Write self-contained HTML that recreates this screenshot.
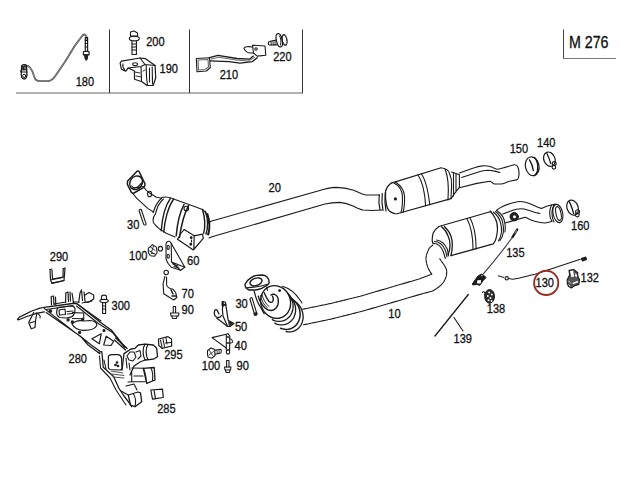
<!DOCTYPE html>
<html><head><meta charset="utf-8">
<style>
html,body{margin:0;padding:0;background:#fff;width:640px;height:480px;overflow:hidden}
svg{display:block}
text{font-family:"Liberation Sans",sans-serif;font-size:12px;fill:#111;stroke:#111;stroke-width:0.3}
.l{fill:none;stroke:#1a1a1a;stroke-width:1.1;stroke-linejoin:round;stroke-linecap:round}
</style></head><body>
<svg width="640" height="480" viewBox="0 0 640 480">
<rect width="640" height="480" fill="#fff"/>
<!-- 180 sensor -->
<g class="l">
<path d="M25,65.5 C29,65 32,69 34,76 C35,80 37,81.2 40,81.2 L48.7,81.2 C52,80.5 54,78 56,75 L65,61.7 L75,45.5 L82.5,35.5 C84,34 86,34 86.5,37 L86.5,40" stroke-width="1.8" stroke="#444"/>
<path d="M25,65.5 C29,65 32,69 34,76 C35,80 37,81.2 40,81.2 L48.7,81.2 C52,80.5 54,78 56,75 L65,61.7 L75,45.5 L82.5,35.5 C84,34 86,34 86.5,37 L86.5,40" stroke-width="0.6" stroke="#bbb"/>
<path d="M85.3,37.5 L87.6,37.5 L87.6,51.3 L85.3,51.3 Z" stroke-width="1.2"/>
<path d="M85.3,40.5 L87.6,40.5 M85.3,43.5 L87.6,43.5 M85.3,47 L87.6,47" stroke-width="1"/>
<path d="M83.5,51.5 L89,51.5 L89.1,54.8 L83.4,54.8 Z" stroke-width="1.2"/>
<path d="M84.9,54.8 L87.7,54.8 L87.5,58.5 L86.3,60.5 L85.1,58.5 Z" fill="#222" stroke-width="1"/>

<path d="M21.6,66.5 C21.6,64 26.4,64 26.6,66.5 L26.8,73 C27.2,75 27,78.5 24.2,79 C21.5,79 21,76 21.3,73 Z" stroke-width="1.3"/>
<path d="M22.5,66 L26,66.5 L25.5,70 L22.5,70 Z" fill="#222" stroke-width="0.8"/>
<path d="M21,72 L27,72 M20.5,71 L21.5,71.5" stroke-width="1.1"/>
<circle cx="24.2" cy="75.8" r="1.6" stroke-width="1"/>
<circle cx="25" cy="68" r="0.7" fill="#fff" stroke="none"/>

<!-- 200 bolt -->
<path d="M130.5,32 L134,31 L137.5,33 L137.5,36 L130.5,36 Z"/>
<ellipse cx="134.3" cy="38.6" rx="5" ry="2.3"/>
<path d="M132,41 L132,54.5 L136.4,54.5 L136.4,41"/>
<path d="M132,44 L136.4,44 M132,47 L136.4,47 M132,50 L136.4,50"/>
<!-- 190 bracket -->
<path d="M121.4,61.2 L140.1,58 L145.2,58.6 L155.1,65.5 L155.7,78 L153.2,85.5 L147,85.5 L142,81.7 L134.5,79.2 L134.5,71 L128.2,68 L125.7,71.1 L121.4,69.2 L120.1,63 Z" stroke-width="1.2"/>
<path d="M128.2,68 L141,66.5 L145,64.5 L155.1,65.5 M140.1,58 L145,64.5 M141,66.5 L141.5,80.5"/>
<ellipse cx="135.1" cy="64.2" rx="2.4" ry="1.4"/>
<path d="M146.2,65 L146.5,77 L147.5,85.5 M149.5,68 L149.5,82 M152.2,67 L152.5,84" stroke-width="1.1"/>
<path d="M135,72 L140,73 M136,76 L141,77 M143,71 L145,70" stroke-width="0.9"/>
<path d="M123,64 C122.5,66 123,68 124.5,69.5"/>
<!-- 210 bracket -->
<path d="M196.3,58.5 L209.5,57.7 L210.3,67.8 L206.4,71 L197,71.7 Z"/>
<path d="M198,60 L208,59.5 L208.5,67 L205,69.5 L198.5,70 Z" stroke="#666"/>
<path d="M209.5,57.7 L218,55.3 L236.9,58.5 L249.4,59.2 L253.3,56.1 M210.3,60.8 L229,61.6 L240,63.2 L252.5,61.6 L257.2,57.7" stroke-width="1.3"/>
<path d="M211,59 L219,57.3 L236,60 L248,61 L254.5,57.5" stroke-width="0.9" stroke="#555"/>
<path d="M252.5,45.2 L265,46 L265.8,55.3 L257.2,56.1 L253.5,53 Z"/>
<path d="M252.5,47 C248,46 244,47 243.9,48.5 C245,51 248,53 250.2,53 L253.5,53"/>
<circle cx="256" cy="49" r="1.2"/>
<!-- 220 bolt -->
<path d="M276.4,40 L269.5,41.5 C268,42 267.9,44.5 269.3,45 L276.6,44.8" stroke-width="1.2"/>
<path d="M271,41.2 L271.3,45 M273,40.8 L273.3,44.9 M275,40.4 L275.2,44.8" stroke-width="0.9"/>
<ellipse cx="279.3" cy="40.3" rx="2.9" ry="6.8" transform="rotate(-12 279.3 40.3)" stroke-width="1.2"/>
<path d="M279.5,36 C281,38 281.3,42 280.5,45" stroke-width="1"/>
<ellipse cx="284.6" cy="40" rx="2.3" ry="5.3" transform="rotate(-10 284.6 40)" stroke-width="1.3" stroke-dasharray="1.3 1"/>
</g>
<!-- Converter 1 (pipe 20 left) -->
<g class="l">
<!-- flange -->
<path d="M127.6,181 C127.3,182.5 127.3,184.5 127.9,185.5 L131.3,192.2 C131.8,193.2 133,193.4 134,193 L143.8,187.3 C144.8,186.5 145.2,185 144.9,183.6 L139.3,172 C138.8,171 137.6,170.8 136.8,171.4 Z" stroke-width="1.5"/>
<ellipse cx="136.1" cy="182.8" rx="6" ry="7.2" transform="rotate(35 136.1 182.8)" stroke-width="1.4"/>
<path d="M131.6,186 C133.5,188.8 137,189 141.6,182.8" stroke-width="1.2"/>
<path d="M131,188.5 L143.5,186.5" stroke-width="1"/>
<!-- neck -->
<path d="M132.4,193 L136.6,198.2 L148,208.6 L153.2,211.7"/>
<path d="M144.2,187.8 L148,192 L156.4,197.2 L161.6,198.2"/>
<path d="M161.6,198.2 C158,201 155,206 153.2,212.8 M163.5,199 C160,202 157,207 155.5,213.8"/>
<ellipse cx="149.6" cy="194" rx="2" ry="2.8"/>
<!-- body -->
<path d="M161.9,197.6 C165,196.5 170,197 175,199.5 L187.5,203.9 L202.5,209.5 C205,211 207,214 208.7,220.7 C209.8,226 209.5,231 207.5,234.5 M155.5,213.8 C152,218 152.5,223 155,224.5 C157,228 160,229.5 166.2,233.2 L175,237"/>
<path d="M170.6,198.2 C165,206 162,220 161.2,230.7 M173.7,199 C168,207 164.5,221 163.8,232" stroke-width="1.4"/>
<path d="M184,204.5 C179.5,213 177,226 176.2,235.7 M188.5,205.7 C184,214 181,227 179.5,237.5" stroke-width="1.5"/>
<path d="M202.5,209.5 C205,218 205.5,226 203.7,233.2 M205.5,211.5 C208,219 208,228 206,234" stroke-width="1.4"/>
<path d="M207.5,214 C209.5,220 210,228 208.5,234.5" stroke-width="1.8"/>
<circle cx="186.3" cy="208.6" r="2.3"/>
<!-- bracket box -->
<path d="M177.5,239.2 L193.3,250 L203.3,238.3 L202.5,234.2 L194.2,235.8 L184.2,229.6 M194.2,235.8 L193.8,249.5" stroke-width="1.2"/>
<path d="M177.5,239.2 C179,236 181.5,232 184.2,229.6"/>
<circle cx="191.2" cy="237.6" r="0.9" fill="#111"/>
<circle cx="190.8" cy="244.2" r="0.9" fill="#111"/>
<path d="M191.5,240 L191.5,242" stroke-width="1"/>
<!-- pipe 20 -->
<path d="M208.5,223 L211,221.2 L318,191 C325,188.8 330,187.6 336,187.4 C342,187.5 348,188.5 353.7,190.3 C358,192 361,194.3 365.9,195 L379,195"/>
<path d="M209,238 L212,236.8 L325,204 C331,202.6 336,202.4 340,202.4 C346,202.8 350,204.5 353.7,206.2 C357,208 360,209.5 363.1,210 L372.5,210.5 L381.9,210"/>
<!-- converter 2 -->
<path d="M379.3,194.5 C378.6,199 378.8,205 380,210 M382.3,193.5 C381.6,199 381.8,205 383,210.5 M385.2,192.5 C384.6,199 384.8,205 386,211" stroke-width="1.2"/>
<path d="M391.2,183.1 C388.5,185 386.5,188 385.6,191 C385.2,196 385.6,201 386.5,205 C387.2,208 388.2,210 389.4,211 C391,212.5 393,213.3 395,213.7" stroke-width="1.2"/>
<path d="M393.3,182.4 C398,185 402,190 402.4,195.8 C402.7,203 402,209 401,212.7 M395.5,182 C400,185 404,190 404.5,196 C404.8,203 404,209 403,212.5"/>
<path d="M391.2,183.1 L441.1,167.7 C446,168.5 449,170 449.5,173.3 C451.5,178 451.8,183 451.6,186 L451,198.6 L396.1,214"/>
<path d="M417.9,174.7 C423,182 425,195 425.6,205.6 M421.4,174 C426.5,181 428.5,194 429.8,204.6"/>
<path d="M445,169 C448,176 449,186 448,200"/>
<circle cx="395.4" cy="198.9" r="1" fill="#222"/>
<path d="M451.6,171.9 L459.4,174.7 L459.4,187.3 L455.9,191.6 L451,198.6 M453.5,172.5 L453.5,196 M456,173.5 L456,192"/>
<!-- tail pipe 20 -->
<path d="M459.4,173 L471.4,168.7 C476,167.2 480,166 482.4,165.9 C485,165.7 488,166 490,166.5 C493,167.3 495.5,169 497.7,169.2 C500,169 502,168.3 504.2,167.6 L514.1,164.8 C516,164.6 517.3,165.5 517.9,167 C518.8,169.5 519.2,172 519,174.7 C518.8,177 518.3,178.7 517.4,179.6 L509.7,181.3 C506,182.3 503.5,184 501,184 L494.4,184 C492.5,183.5 491.5,181.5 490,181.3 L476.9,183.4 L459.4,187.8"/>
<path d="M461.6,177.4 L476.9,172.5 C481,171.3 485,170.4 487.8,170.3 C490,170.3 491.8,170.5 493.3,170.9 C496,171.5 498,172 499.9,172.5"/>
<!-- 150 ring -->
<ellipse cx="532.2" cy="166.3" rx="6.8" ry="9.5" transform="rotate(-12 532.2 166.3)" stroke-width="1.2"/>
<path d="M529.5,159.9 C531.5,163 532.7,166.5 533.3,170.5" stroke-width="1.4"/>
<path d="M534.5,157.5 C537.5,160 538.5,166 537.5,171 C537,173 536,174.5 534.5,175.5" stroke-width="1.5"/>
<!-- 140 clamp -->
<ellipse cx="549.4" cy="159.2" rx="5.6" ry="7.4" transform="rotate(-22 549.4 159.2)" stroke-width="1.2"/>
<path d="M547,153.6 C548.5,156.5 549.8,160 550.7,163.6" stroke-width="1.2"/>
<circle cx="554.2" cy="163.6" r="2" stroke-width="1.1"/>
<circle cx="553.9" cy="167.3" r="1.8" stroke-width="1.1"/>
</g>
<g class="l">
</g>
<g class="l">
<!-- converter 3 -->
<path d="M285.1,291.1 L286.4,292.1 L287.6,293.1 L288.8,294.4 L289.8,295.7 L290.7,297.1 L291.5,298.6 L292.1,300.2 L292.6,301.8 L292.9,303.4 L293.1,305.1 L293.1,306.8 L293.0,308.4 L292.7,310.0 L292.3,311.6 L291.7,313.1 L291.0,314.5 L290.1,315.8 L289.1,317.0 L288.0,318.1 L286.8,319.0 L285.5,319.8 L284.2,320.4 L282.8,320.9 L281.3,321.2 L279.8,321.4 L278.2,321.4 L276.7,321.2 L275.2,320.8 L273.7,320.3 L272.3,319.6" stroke-width="1.3"/>
<path d="M287.6,294.6 L288.9,295.6 L290.1,296.6 L291.3,297.9 L292.3,299.2 L293.2,300.6 L294.0,302.1 L294.6,303.7 L295.1,305.3 L295.4,306.9 L295.6,308.6 L295.6,310.3 L295.5,311.9 L295.2,313.5 L294.8,315.1 L294.2,316.6 L293.5,318.0 L292.6,319.3 L291.6,320.5 L290.5,321.6 L289.3,322.5 L288.0,323.3 L286.7,323.9 L285.3,324.4 L283.8,324.7 L282.3,324.9 L280.7,324.9 L279.2,324.7 L277.7,324.3 L276.2,323.8 L274.8,323.1" stroke-width="1.3"/>
<path d="M290.9,298.4 L292.3,299.2 L293.6,300.2 L294.8,301.3 L295.9,302.5 L296.9,303.9 L297.8,305.3 L298.6,306.8 L299.2,308.4 L299.6,310.0 L299.9,311.7 L300.1,313.3 L300.1,315.0 L300.0,316.6 L299.6,318.3 L299.2,319.8 L298.6,321.3 L297.8,322.7 L297.0,324.0 L296.0,325.2 L294.9,326.2 L293.7,327.1 L292.4,327.9 L291.0,328.5 L289.5,329.0 L288.1,329.3 L286.6,329.4 L285.0,329.3 L283.5,329.1 L282.0,328.7 L280.5,328.2" stroke-width="1.5"/>
<path d="M291.4,299.8 L292.9,300.4 L294.3,301.1 L295.7,302.0 L297.0,303.0 L298.1,304.1 L299.2,305.4 L300.2,306.8 L301.0,308.2 L301.7,309.8 L302.3,311.4 L302.7,313.0 L303.0,314.6 L303.1,316.3 L303.1,318.0 L302.9,319.6 L302.5,321.2 L302.0,322.7 L301.4,324.2 L300.6,325.6 L299.7,326.8 L298.7,328.0 L297.5,329.0 L296.3,329.9 L295.0,330.6 L293.6,331.2 L292.1,331.6 L290.6,331.8 L289.1,331.9 L287.6,331.8 L286.1,331.5" stroke-width="1.3"/>
<path d="M282.5,286.3 C290,288.5 296,294 300,300 L302,303"/>
<ellipse cx="275.6" cy="302" rx="14.8" ry="16.6" transform="rotate(-20 275.6 302)" stroke-width="1.3" fill="#fff"/>
<circle cx="279.6" cy="290.6" r="0.9" fill="#222"/>
<path d="M254.2,291.2 C255.5,297 257.5,303 260.8,307.5 C262,310 263,312 264.2,313.7" fill="none" stroke-width="1.2"/>
<path d="M266.7,287 L267.5,290.3"/>
<path d="M258.3,296.2 C259.5,301 262,305 265,308 C268,310.5 272,310.8 274.5,309.3 C277.5,307.5 278.6,304 278.3,300 C278,297 276.5,295 274.5,294.3 C273,294 271.8,294.3 271,295" stroke-width="1.4"/>
<path d="M264.2,292.8 C265.5,296 267,299 269,301.5 C270.5,303 272.5,302.5 273.2,300.5 C273.5,298.5 273,297 272.5,296.2" stroke-width="1.4"/>
<path d="M262,294.5 C263,299 265.5,304 269,306.5 M260.5,295.5 C261.5,300.5 264,305.5 267.5,308" stroke-width="0.9"/>
<path d="M245,284.2 C246.5,281 248.5,279.3 250.8,277.9 C253,276.5 255,275.6 256.7,275.4 L262.5,275 C264.5,275.3 265.8,275.8 266.7,276.7 C268,278 268.6,279 268.75,280 L269.2,282.5 C268.7,283.8 268.2,284.5 267.5,285 L261.7,288.3 C259,289.3 257,289.8 255,290 L249.2,290 C247.5,289.5 246.5,288.7 245.8,287.5 C245.2,286.5 245,285.5 245,284.2 Z" stroke-width="1.4" fill="#fff"/>
<ellipse cx="256" cy="281.9" rx="6.2" ry="3.7" transform="rotate(-18 256 281.9)" stroke-width="1.4"/>
<path d="M246.3,287.9 C253,287.5 261,286.5 267.5,284.2" />
</g>

<g class="l">
<!-- bolt 30 lower -->
<path d="M249.9,299 L254.6,314.5 M252.2,298.3 L256.9,313.8 M249.9,299 C250,297.6 252,297.2 252.2,298.3" stroke-width="1.1"/>
<path d="M254.2,313.2 L256.8,312.6 L257,315 L255,315.5 Z" fill="#222" stroke-width="1"/>
<!-- pipe 10 -->
<path d="M302.5,309.3 L331,303.4 L360,296.3 L420,278.7 L431.8,274.2 C430,272 428,268 427.2,265.6 C426.2,262 425.8,259 426,257.6 C426.3,255.5 426.6,254 427.2,253 C428,250.5 429,248.5 430,247.3 L433,245" stroke-dasharray="3.5 0.8"/>
<path d="M303.5,324.8 L331,319.1 L360,311.8 L368.3,309.5 L420,294.4 L433,290.9 C436,289 439,287 441,285.1 C443,283 444.5,281 445.5,278.3 C446.5,276 446.9,273.5 446.7,271.4 C446.5,269 445.6,267 444.4,265.6 C443.5,264 442.8,263 442.1,262.2 L439.8,258.8" stroke-dasharray="3.5 0.8"/>
<!-- converter 4 -->
<path d="M433.1,243.5 C437,243 441,246 443.4,252 L445.3,258.5 M434.5,241.5 C439,241.5 443,245 445.5,250.5 L447,257 M436.5,240 C441,240.5 445,244 447.5,249.5 L448.5,256" stroke-width="1.1"/>
<path d="M438.7,226.7 C436,228.5 434,230.5 433.1,233.2 C432.4,236 432.1,238.5 432.2,240.7 L433.1,243.5" stroke-width="1.2"/>
<path d="M441.6,226.7 C445,229.5 447,232.5 448.1,236 C449.5,239 450,242 450,245.4 C450,249 449.2,252 448.1,254.8 M444.4,226.5 C447.5,229.5 449.8,232.5 450.9,236 C452,239 452.4,242 452.3,245.4 C452.2,249 451.8,252.5 450.9,255.7" stroke-width="1.3"/>
<path d="M438.7,226.5 L491.1,211.5 M450.9,255.7 L493.3,243.8 C496,241 497,236 497.5,229.2 C497.5,224 496.6,221 495.4,218.8 C493.8,215.5 492.2,213 490.2,211" stroke-width="1.2"/>
<path d="M466.9,218.4 C471,226 473,238 473.1,249.7 M469.9,217.8 C474,225 476,237 476.2,249"/>
<path d="M493.3,212 C497,215 499.5,218.5 500.5,222.5 C501.5,226 501.7,229 501.5,232 C501,236 500,238.5 498.5,241 M495.5,211.5 C499.5,214.5 501.8,218 502.7,222.5 C503.5,226 503.7,229 503.3,232.5 C502.8,236 501.5,238.5 500,240.5 M497.5,211 C501.5,214 504,217.5 504.8,222.5 C505.5,226 505.5,229 505,232" stroke-width="1.1"/>
<path d="M496.5,210.5 C498,209 499,208 500.6,207.4 C505,205.5 510,203.5 514,202.5 C517,201.7 519.5,201.4 521,201.5 C524,201.8 527,202.5 529.5,203.5 C534,205.5 538,207.5 541.5,208.4 C544,207.5 546,206.5 548.4,205.8 L555.3,204.1"/>
<path d="M502.7,214.1 L512.1,210.5 C516,209 520,208.5 524,209 C530,210.5 535,213 540,213.5"/>
<path d="M504.8,223 L514.2,220.4 L525,217.3 L526.5,217.7 C528.5,218.8 531,220 534.7,221.2 C538,222.2 541,223 545,223 C548,222.5 550,222 551.9,221.2"/>
<circle cx="514.2" cy="216.7" r="4.2" fill="#222" stroke-width="1"/>
<circle cx="514.5" cy="216.8" r="1.5" fill="#fff" stroke="none"/>
<ellipse cx="557.9" cy="213.5" rx="4.8" ry="9.3" transform="rotate(-12 557.9 213.5)"/>
<path d="M551.5,205 C549,210 549,217 551.9,221.2 M554,204.5 C551.5,210 551.5,217 554,222"/>
<ellipse cx="558.5" cy="213.5" rx="2.5" ry="7" transform="rotate(-12 558.5 213.5)"/>
<!-- 160 clamp -->
<ellipse cx="572.6" cy="207.6" rx="5.5" ry="7.8" transform="rotate(-22 572.6 207.6)" stroke-width="1.2"/>
<path d="M569.4,201.9 C571,205 572.5,209.5 573.7,213.7" stroke-width="1.3"/>
<circle cx="577.6" cy="211.8" r="2" stroke-width="1.1"/>
<circle cx="577.3" cy="215" r="1.9" stroke-width="1.1"/>
<!-- sensor 135 -->
<path d="M517.3,229.4 L512.5,237.2" stroke-width="2.2"/>
<path d="M516.5,230.5 L515,233" stroke="#fff" stroke-width="0.6"/>
<path d="M512.5,237.2 C503,250 492,264 483.3,273.8" stroke-width="1.05" stroke="#333"/>
<path d="M472.5,283.7 L477.7,276.2 L481.5,274 L484.1,275.5 L486,277.7 L483,280.7 L480,285.2 L476.2,284.5 L473.2,284.9 Z" fill="#1a1a1a" stroke-width="1"/>
<path d="M477.3,280.3 L481,280 L480.8,283.5 L477,283.6 Z" fill="#fff" stroke="none"/>
<circle cx="481.9" cy="275.6" r="0.7" fill="#fff" stroke="none"/>
<!-- 138 -->
<ellipse cx="489.6" cy="296.4" rx="4.9" ry="6.9" fill="#2a2a2a" stroke-width="1"/>
<circle cx="489.2" cy="292.5" r="1" fill="#fff" stroke="none"/>
<circle cx="491.8" cy="294.5" r="1" fill="#fff" stroke="none"/>
<circle cx="487.8" cy="296" r="1" fill="#fff" stroke="none"/>
<circle cx="490.5" cy="298" r="1" fill="#fff" stroke="none"/>
<circle cx="488.5" cy="300.3" r="1" fill="#fff" stroke="none"/>
<circle cx="491.5" cy="301" r="0.9" fill="#fff" stroke="none"/>
<path d="M482.5,292.5 C483,291.5 484.5,291.5 485,293 L485,295"/>
<!-- 139 -->
<path d="M468.3,294.5 L435,336" stroke-width="1.3"/>
<path d="M454,317.5 L463,331"/>
<!-- sensor 130 -->
<path d="M498.3,275.8 L503.5,277.4" stroke-dasharray="1.5 1"/>
<circle cx="506.7" cy="278.3" r="1.7"/>
<path d="M508.5,278.5 L513,279.2 C520,278 527,276 535,274.2 L580.3,259.3" stroke-width="1.1"/>
<path d="M581.4,258.5 L585.8,257.1 L586.5,259.5 L582.5,261 Z" fill="#222"/>
<!-- 132 -->
<path d="M569,270.4 L573.7,269.5 L577.7,272.7 L577.7,275.7 L579.5,279.7 L578.9,284.4 L574.8,285.6 L571.3,288 L568.4,286.2 L567.2,283.2 L567.2,279.7 L569.6,275 Z" fill="#555" stroke-width="1.1"/>
<path d="M570,271.2 L573.2,270.6 L574,276.5 L571.5,277.2 Z" fill="#fff" stroke="none"/>
<path d="M575.5,273 L577,275 L576.5,277.5 L575,276 Z" fill="#fff" stroke="none"/>
<path d="M572.5,283 L578,280.8 L578.2,282.2 L572.8,284.3 Z" fill="#fff" stroke="none"/>
<path d="M568.5,281 L570.5,283 M568.8,285 L570,286" stroke="#fff" stroke-width="0.8"/>
</g>
<circle cx="546.2" cy="282.9" r="12.1" fill="none" stroke="#962e24" stroke-width="1.9"/>
<g class="l">
<!-- bolt 30 upper -->
<path d="M139.2,211 L143.6,224.2 M141.5,210.2 L146,223.6 M139,211 C139,209 141.5,208.8 141.8,210.4 M143.6,224.2 C144.5,225.6 146.5,225 146,223.6"/>
<!-- nut 100 upper -->
<path d="M148.3,248.3 L152.5,244.6 L156.3,247.1 L157.1,252.5 L154.6,256.2 L150.4,255.8 L148.3,252.5 Z" stroke-width="1.1"/>
<path d="M150.5,247 L155,250.5 M153.5,246 L151.5,252 M149.5,251 L155.5,254.5 M151.5,253.5 L154,253.5" stroke-width="0.9"/>
<ellipse cx="160.4" cy="248.7" rx="2.1" ry="2.3" stroke-width="1.1"/>
<!-- bracket 60 -->
<path d="M167,242 C168,240.8 170,240.8 171.2,243.2 L184.8,267.2 L180.6,270.3 L171.2,267.2 C168,264 166.5,261 166,258.8 L166,244.2 C166,243 166.5,242.5 167,242 Z"/>
<path d="M171.2,243.2 L171.5,262 L180.6,270.3 M171.5,262 L184.8,267.2"/>
<ellipse cx="168.2" cy="247.4" rx="1.1" ry="2"/>
<ellipse cx="168.2" cy="256.2" rx="1.1" ry="2"/>
<path d="M173,264 L178,266 M174,266.5 L179,268"/>
<!-- bracket 70 -->
<circle cx="166.2" cy="272.5" r="2.2"/>
<path d="M165,276.2 L163.1,283.7 L163.7,293.7 L173.7,300 M166.6,277 L166.6,285 C167,287 169,288.5 173.1,289.4 L175.6,292.5 L176.9,297.5 L173.7,300"/>
<path d="M171,290 L173,294 M172,296 L176,296" stroke-width="1.5"/>
<!-- bolt 90 -->
<path d="M173.2,306.5 L173.2,312.5 M175.6,306.5 L175.6,312.5 M173.2,306.5 L175.6,306.5"/>
<path d="M170.5,313 L179,313 L178.5,316 L171,316 Z"/>
<path d="M172,316 L172.5,318.5 L176.5,318.5 L177,316"/>
<!-- bracket 50 -->
<path d="M222.9,301.5 L225.5,302.3 L228.1,320.2 L233.9,323.5 L230,326.5 L227.6,326.5 L216.7,318.1" stroke-width="1.2"/>
<path d="M222.9,301.5 L222.4,309.8 L223,316 L227.6,326.5" stroke-width="1.2"/>
<path d="M222.4,305 L225.4,304.8 M222.5,302 L222.8,306" stroke-width="2"/>
<path d="M214.6,310.8 C214,313.5 214.5,316 216.5,317 C218.5,317.8 220.5,317.5 221.5,315.5 M214.6,310.8 C215.2,309.5 216.5,309.3 217.2,310.3 L219,314" stroke-width="1.3"/>
<path d="M229,321.5 L232.5,323.5 L229.5,325.5 Z" fill="#222" stroke-width="1"/>
<!-- bracket 40 -->
<path d="M212,337.6 L226.3,334.2 L228,333.6 L229.8,336 L229.6,353 C229,354.5 227,354.5 226.4,353 L226.3,348 L224.6,346.8 Z" stroke-width="1.1"/>
<path d="M226.3,334.5 L226.3,348" stroke-width="1.1"/>
<path d="M227.2,337 L228.8,337 M227.2,343 L228.8,343 M227.2,350 L228.8,350" stroke-width="1.4"/>
<path d="M229.5,338.7 L232,339.5 L232.6,342.5 L229.6,343.3" stroke-width="1"/>
<!-- bolt 100 lower -->
<path d="M207.6,350.5 L211,348 L214.7,349.5 L215,355.5 L212,358.2 L208,357 L207.4,353.5 Z" stroke-width="1.1"/>
<path d="M209.5,350.5 L212.5,355.5 M209,355 L213.5,351.5" stroke-width="0.8"/>
<path d="M214.9,350.3 L220.5,349.3 C221.5,349.6 221.5,352.6 220.7,353 L215,354.2" stroke-width="1.1"/>
<path d="M217,350 L217.3,353.6 M219,349.7 L219.2,353.3" stroke-width="0.8"/>
<!-- bolt 90 lower -->
<path d="M226.6,360.5 L226.6,367 M229,360.5 L229,367 M226.6,360.5 L229,360.5"/>
<path d="M224.5,367 L231,367 L230.5,370 L225,370 Z"/>
<path d="M225.5,370 L226,372.5 L229.5,372.5 L230,370"/>
</g>
<g class="l">
<!-- 290 clip -->
<path d="M50,269.5 L50.5,280 L52,283.3 L64,280.5 L65,268.2 M52,270 L52.5,279 L63,277 L63.2,268.5" stroke-width="1.2"/>
<path d="M50.5,280 L63,277.5 M51.5,283 C55,282.5 60,281.8 64,280.5"/>
<path d="M50,269.5 L51.7,269 M63.2,268.5 L65,268.2"/>
<!-- 300 bolt -->
<path d="M101.5,297 C101.5,294.5 106.5,294.5 106.5,297 L106.5,299.5 L101.5,299.5 Z"/>
<ellipse cx="104.1" cy="301" rx="4.2" ry="1.6"/>
<path d="M102.6,302.5 L102.6,313.5 L105.6,313.5 L105.6,302.5 M102.6,306 L105.6,306 M102.6,309 L105.6,309"/>
<!-- subframe 280 -->
<!-- left arm -->
<path d="M17.5,319.4 C19,316.5 22.5,315.6 22.5,315.6 L31.2,311.2 L40,308.1 L43.7,307.5 M18.1,320 L27.5,316.2 L37.5,313.1 L44.4,311.9" stroke-width="1.2"/>
<path d="M33.7,312.5 L28.7,322.5 L31.2,328.7 L35,327.5 L35.6,320 L37,313" stroke-width="1.2"/>
<path d="M30,323 L34.5,321.5 M36,313 C39,314 41,316 40,318"/>
<!-- studs -->
<path d="M51.5,305 L51.2,296.5 L53.5,296 L54,304.5 M55.5,297 L55.8,305" stroke-width="1.2"/>
<path d="M65.6,302 L65.8,293 L68,292 L68.5,301.5 M70,292 L70.5,301 M72,293 L73.5,302.5" stroke-width="1.2"/>
<path d="M78.7,302.5 L80,293 L81.5,290 L82.5,300.5 M84,292 L85,301 M85,295 L89,292.5 L93.7,295 L93.7,299 L88,302.5 L85,302" stroke-width="1.2"/>
<path d="M54,304 L66,302 M73,302 L79,302 M82,303 L92,301"/>
<!-- plate -->
<path d="M44.2,307.4 L74.4,303.2 L77.5,304 L100,322 L111.2,330 L125,347.5" stroke-width="1.4"/>
<path d="M46.2,309.5 L73,305.5 M76.5,306 L99,324 L112.5,332.5 L123.7,346.2"/>
<path d="M78.5,305 L101,321"/>
<path d="M44.2,308.4 L81.7,337.6 L88.1,345 L100,353.7 M46.2,312.6 L80,336 L91.2,345 L100,351.2" stroke-width="1.2"/>
<!-- cutouts -->
<path d="M57,309.5 C57,307.5 60,306.8 63,306.8 L71,306 C74,306 75.4,308 75,310 L74.5,313 C73.5,316.5 70,318 66,318 L60,317.5 C57.5,317 56.5,314 56.7,312 Z" stroke-width="1.2"/>
<path d="M59,310 L65,309 L65.5,314.5 L59.5,315 Z"/>
<path d="M67,311.5 L73,311 M67.5,314 L72.5,313.5"/>
<path d="M72.3,312.6 L83.7,313 L83.7,318.8 L72.5,318.5"/>
<circle cx="68.1" cy="319.9" r="1.1" fill="#222"/>
<circle cx="72.3" cy="322" r="1.1" fill="#222"/>
<circle cx="82.7" cy="319.4" r="1.1" fill="#222"/>
<circle cx="79.6" cy="332.4" r="1.1" fill="#222"/>
<circle cx="50.4" cy="311" r="1.3" fill="#222"/>
<path d="M72,324 C75,321 79,320 84,321 L90,320.5 C94,320.5 97.3,323 96.8,325.5 C95,329 89,330.5 83,330.3 C78,330 74,328 72,324 Z" stroke-width="1.2"/>
<path d="M91.9,338.7 L101.2,333.7 L99.4,343.7 Z" stroke-width="1.2"/>
<path d="M103.7,345 L106.2,336.2 L113.7,341.2 L111,345.5 Z" stroke-width="1.2"/>
<circle cx="104" cy="330.5" r="1" fill="#222"/>
<path d="M115.7,338 L127.2,348.4 M114.5,340 L125.5,350" stroke-width="1.3"/>
<!-- lower assembly: left bracket -->
<path d="M98,352.6 L101.7,351.5 L102.2,355 L103.2,367.2 L113.6,376.5 L118.8,388 L124,396 L128.3,401.7 L131.7,406.7" stroke-width="1.3"/>
<path d="M99.5,356 L100.5,368 L110,378 L116,390 L122,399 L126,405"/>
<path d="M104,360 L106,369"/>
<!-- box with dots -->
<path d="M108.4,357 C108.4,355.5 110,354.7 112,354.7 L118,354.7 C120,354.7 121,356 121.5,358 L122,368 C122,369.5 121,370 119.5,370 L110,369.5 C108.8,369.3 108.4,368.5 108.4,367 Z" stroke-width="1.2"/>
<circle cx="115.5" cy="365" r="0.8" fill="#222"/>
<circle cx="118" cy="366" r="0.8" fill="#222"/>
<circle cx="117" cy="362.5" r="0.8" fill="#222"/>
<path d="M111,371 L123,373 M112,374 L124,375.5 M113,377 L124,378" stroke="#555"/>
<!-- upper housing -->
<path d="M122,370 L124,353.6 L131,349 L135,348.3 L138.3,345 L145,344.2 L153.3,345 L156.7,348.3 L157.5,356.7 L153.3,359.2 L145,360 L140,362 L134,366 L130,375" stroke-width="1.3"/>
<path d="M145,344.2 C142.5,348 142.5,355 145,360 M148,344.4 C145.5,348 145.5,355 148,359.8" stroke-width="1.2"/>
<path d="M127,356 L130,352 L134,352 L136,357 L133,361 L129,360 Z"/>
<path d="M136,352 L140,350.5 L141,356 L138,359"/>
<path d="M126,358 L127,368 M129,363 L130,370"/>
<!-- middle bushing -->
<path d="M143.3,368.3 L154.2,367.5 L155,380 L146.7,383.3 Z" stroke-width="1.3"/>
<path d="M143.3,368.3 C145.5,371 146,378 146.7,383.3 M151,368 C152.5,371 153,376 152.5,380.5"/>
<path d="M131.7,368 L143.3,368.3 M131.7,381.7 L145,381.7 M131.7,372 L131.7,381.7 M134,376 L143,376" stroke-width="1.1"/>
<path d="M128,382 L131.7,381.7 M126,386 L134,384 L137,390"/>
<!-- lower bushing -->
<path d="M128.3,395 L138,392 L140.5,392.8 L141.7,401.7 L135,406.7 L130.5,405 Z" stroke-width="1.3"/>
<path d="M133.5,394 C135.5,397 136,402 135,406.7"/>
<path d="M121,391 L128.3,395"/>
<!-- 285 -->
<path d="M150.8,390 L162.5,389.2 L163.3,397.5 L152.5,399.2 Z M154,390 L155.5,398.8" stroke-width="1.2"/>
<!-- 295 -->
<path d="M158.5,339 L168,336.7 L171.5,339 L171.7,346 L162,348.3 L158.8,345.5 Z" stroke-width="1.2"/>
<path d="M160.5,340 L162,347 M163,339 L164.5,346.5 M165.5,343 L171,342.5 M166,338 L167,344" />
</g>
<!-- frames -->
<line x1="16" y1="93" x2="303" y2="93" stroke="#666" stroke-width="1.2"/>
<line x1="109.5" y1="29.5" x2="109.5" y2="93" stroke="#333" stroke-width="1"/>
<line x1="189.5" y1="29.5" x2="189.5" y2="93" stroke="#333" stroke-width="1"/>
<line x1="302.5" y1="29.5" x2="302.5" y2="93" stroke="#333" stroke-width="1"/>
<line x1="563.5" y1="29.5" x2="563.5" y2="58.5" stroke="#444" stroke-width="1"/>
<line x1="563" y1="58.5" x2="616" y2="58.5" stroke="#777" stroke-width="1.2"/>
<text x="568.9" y="47.5" style="font-size:16.3px" textLength="39.6" lengthAdjust="spacingAndGlyphs">M 276</text>
<!-- labels -->
<g>
<text x="75.7" y="85.7" textLength="18.4" lengthAdjust="spacingAndGlyphs">180</text>
<text x="146.2" y="46.2" textLength="18.4" lengthAdjust="spacingAndGlyphs">200</text>
<text x="159.6" y="73.1" textLength="18.4" lengthAdjust="spacingAndGlyphs">190</text>
<text x="219.7" y="78.8" textLength="18.4" lengthAdjust="spacingAndGlyphs">210</text>
<text x="273.2" y="60.6" textLength="18.4" lengthAdjust="spacingAndGlyphs">220</text>
<text x="268.5" y="191.5" textLength="12.4" lengthAdjust="spacingAndGlyphs">20</text>
<text x="127.0" y="229.0" textLength="12.4" lengthAdjust="spacingAndGlyphs">30</text>
<text x="509.7" y="152.6" textLength="18.4" lengthAdjust="spacingAndGlyphs">150</text>
<text x="537.1" y="146.5" textLength="18.4" lengthAdjust="spacingAndGlyphs">140</text>
<text x="571.0" y="229.8" textLength="18.4" lengthAdjust="spacingAndGlyphs">160</text>
<text x="49.8" y="261.2" textLength="18.4" lengthAdjust="spacingAndGlyphs">290</text>
<text x="111.5" y="310.0" textLength="18.4" lengthAdjust="spacingAndGlyphs">300</text>
<text x="129.0" y="260.0" textLength="18.4" lengthAdjust="spacingAndGlyphs">100</text>
<text x="187.1" y="264.6" textLength="12.4" lengthAdjust="spacingAndGlyphs">60</text>
<text x="181.5" y="298.1" textLength="12.4" lengthAdjust="spacingAndGlyphs">70</text>
<text x="181.5" y="313.8" textLength="12.4" lengthAdjust="spacingAndGlyphs">90</text>
<text x="235.4" y="307.8" textLength="12.4" lengthAdjust="spacingAndGlyphs">30</text>
<text x="234.9" y="331.3" textLength="12.4" lengthAdjust="spacingAndGlyphs">50</text>
<text x="234.5" y="349.8" textLength="12.4" lengthAdjust="spacingAndGlyphs">40</text>
<text x="164.2" y="359.0" textLength="18.4" lengthAdjust="spacingAndGlyphs">295</text>
<text x="388.2" y="318.0" textLength="12.4" lengthAdjust="spacingAndGlyphs">10</text>
<text x="453.5" y="343.0" textLength="18.4" lengthAdjust="spacingAndGlyphs">139</text>
<text x="506.2" y="256.5" textLength="18.4" lengthAdjust="spacingAndGlyphs">135</text>
<text x="535.5" y="286.7" textLength="18.4" lengthAdjust="spacingAndGlyphs">130</text>
<text x="580.6" y="281.6" textLength="18.4" lengthAdjust="spacingAndGlyphs">132</text>
<text x="486.8" y="312.8" textLength="18.4" lengthAdjust="spacingAndGlyphs">138</text>
<text x="201.8" y="370.0" textLength="18.4" lengthAdjust="spacingAndGlyphs">100</text>
<text x="236.5" y="370.0" textLength="12.4" lengthAdjust="spacingAndGlyphs">90</text>
<text x="157.2" y="412.5" textLength="18.4" lengthAdjust="spacingAndGlyphs">285</text>
<text x="68.5" y="362.5" textLength="18.4" lengthAdjust="spacingAndGlyphs">280</text>
</g>
</svg>
</body></html>
